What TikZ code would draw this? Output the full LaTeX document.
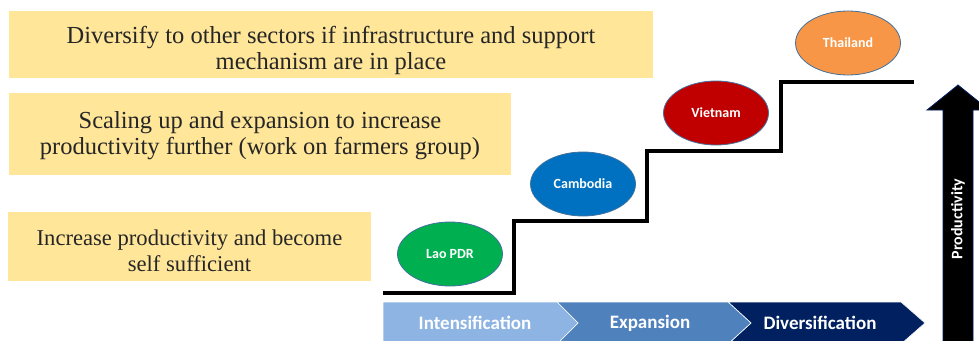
\documentclass[tikz,border=0pt]{standalone}
\usepackage{fontspec}
\setmainfont{Liberation Serif}
\newfontfamily\calib{Carlito}
\usetikzlibrary{shapes.geometric}
\definecolor{boxy}{HTML}{FFE699}
\definecolor{txt}{HTML}{262626}
\definecolor{cgreen}{HTML}{00B050}
\definecolor{cblue}{HTML}{0070C0}
\definecolor{cred}{HTML}{C00000}
\definecolor{corange}{HTML}{F79646}
\definecolor{eborder}{HTML}{41719C}
\definecolor{seg1}{HTML}{8DB4E2}
\definecolor{seg2}{HTML}{4F81BD}
\definecolor{seg3}{HTML}{002060}
\tikzset{
  ybox/.style={fill=boxy, draw=none, inner sep=0pt, align=center, text=txt,
    font=\fontsize{24.5}{26}\selectfont},
  country/.style={ellipse, draw=eborder, line width=0.8pt, minimum width=105pt,
    minimum height=64pt, inner sep=0pt, text=white, font=\calib\bfseries\fontsize{14}{16}\selectfont},
  stair/.style={line width=4pt, line cap=butt, line join=miter},
  chev/.style={draw=white, line width=0.6pt},
  chevtxt/.style={text=white, font=\calib\bfseries\fontsize{19}{22}\selectfont}
}
\begin{document}
\begin{tikzpicture}[x=1pt,y=-1pt]
\useasboundingbox (0,0) rectangle (979,340);
% text boxes
\fill[boxy] (9,11) rectangle (653,78);
\node[ybox] (b1) at (331,50) {Diversify to other sectors if infrastructure and support\\mechanism are in place};
\fill[boxy] (9,93) rectangle (511,175);
\node[ybox] (b2) at (260,136) {Scaling up and expansion to increase\\productivity further (work on farmers group)};
\fill[boxy] (8,212) rectangle (371,281);
\node[ybox, font=\fontsize{22.6}{26}\selectfont] (b3) at (189.5,251) {Increase productivity and become\\self sufficient};
% stairs
\draw[stair] (383,292.5) -- (514,292.5) -- (514,221) -- (647,221) -- (647,151) -- (781,151) -- (781,81.5) -- (914,81.5);
% countries
\node[country, fill=cgreen] (lao) at (450,254) {Lao PDR};
\node[country, fill=cblue] (cam) at (583,184) {Cambodia};
\node[country, fill=cred] (vie) at (716,113) {Vietnam};
\node[country, fill=corange] (tha) at (848,43) {Thailand};
% chevron band
\fill[seg3, chev] (728,302) -- (901,302) -- (925,323) -- (901,344) -- (728,344) -- (751,323) -- cycle;
\fill[seg2, chev] (557,302) -- (728,302) -- (751,323) -- (728,344) -- (557,344) -- (578,323) -- cycle;
\fill[seg1, chev] (383,302) -- (557,302) -- (578,323) -- (557,344) -- (383,344) -- cycle;
\node[chevtxt] (int) at (475,323) {Intensification};
\node[chevtxt] (exp) at (650,323) {Expansion};
\node[chevtxt] (div) at (820,323) {Diversification};
% productivity arrow
\filldraw[fill=black, draw=seg3, line width=0.8pt] (943,345) -- (943,110) -- (927,110) -- (958,85) -- (989,110) -- (973,110) -- (973,345) -- cycle;
\node[rotate=90, text=white, font=\calib\bfseries\fontsize{16}{18}\selectfont] (prod) at (958,219) {Productivity};
\end{tikzpicture}
\end{document}
